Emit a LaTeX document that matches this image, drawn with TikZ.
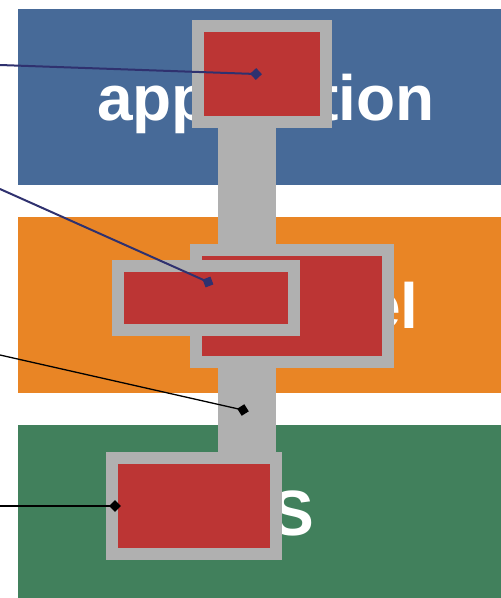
\documentclass[tikz,border=0pt]{standalone}
\usepackage{fontspec}
\setmainfont{Liberation Sans}
\usetikzlibrary{shapes.geometric}
\definecolor{bandblue}{HTML}{476A98}
\definecolor{bandorange}{HTML}{E98525}
\definecolor{bandgreen}{HTML}{41805C}
\definecolor{boxgray}{HTML}{B0B0B0}
\definecolor{boxred}{HTML}{BC3534}
\definecolor{navyline}{HTML}{2F316F}
\tikzset{
  band/.style={fill=#1, draw=none, inner sep=0pt, outer sep=0pt, anchor=north west},
  bandtext/.style={text=white, font=\fontsize{64}{64}\selectfont\bfseries, inner sep=0pt},
  redbox/.style={draw=boxgray, line width=12pt, fill=boxred, inner sep=0pt, outer sep=0pt},
  stembox/.style={fill=boxgray, draw=none, inner sep=0pt, outer sep=0pt},
  marker/.style={diamond, aspect=1, fill=#1, draw=none, inner sep=0pt, minimum size=12pt},
  navyconn/.style={draw=navyline, line width=2pt},
  blackconn/.style={draw=black, line width=1.3pt},
}
\begin{document}
\begin{tikzpicture}[x=1pt,y=-1pt]
\useasboundingbox (0,0) rectangle (501,598);
% bands
\node[band=bandblue, minimum width=500pt, minimum height=176pt] (bandA) at (18,9) {};
\node[band=bandorange, minimum width=500pt, minimum height=176pt] (bandB) at (18,217) {};
\node[band=bandgreen, minimum width=500pt, minimum height=173pt] (bandC) at (18,425) {};
\node[bandtext, anchor=base] (tA) at (266,120) {application};
\node[bandtext, anchor=base east] (tB) at (419,328) {kernel};
\node[bandtext, anchor=base east] (tC) at (314,535) {OS};
% stem
\node[stembox, minimum width=58pt, minimum height=336pt] (stem) at (247,290) {};
% boxes
\node[redbox, minimum width=128pt, minimum height=96pt] (top) at (262,74) {};
\node[redbox, minimum width=192pt, minimum height=112pt] (midR) at (292,306) {};
\node[redbox, minimum width=176pt, minimum height=64pt] (midL) at (206,298) {};
\node[redbox, minimum width=164pt, minimum height=96pt] (bot) at (194,506) {};
% connector ends
\coordinate (s1) at (0,65);
\coordinate (s2) at (0,189);
\coordinate (s3) at (0,355);
\coordinate (s4) at (0,506);
\node[marker=navyline, rotate=-2] (m1) at (256,74) {};
\node[marker=navyline, rotate=-24] (m2) at (208,282) {};
\node[marker=black, rotate=-13] (m3) at (243,410) {};
\node[marker=black] (m4) at (115,506) {};
\draw[navyconn] (s1) -- (m1.center);
\draw[navyconn] (s2) -- (m2.center);
\draw[blackconn] (s3) -- (m3.center);
\draw[blackconn] (s4) -- (m4.center);
\end{tikzpicture}
\end{document}
